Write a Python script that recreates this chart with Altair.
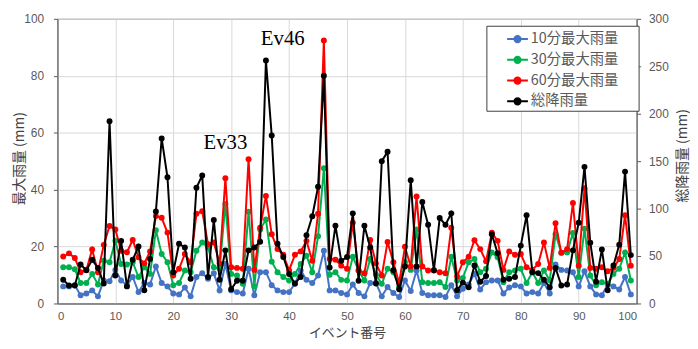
import altair as alt
import pandas as pd

events = list(range(1, 100))

max10 = [6.0, 6.0, 6.4, 2.9, 3.5, 4.6, 2.5, 8.1, 7.8, 11.8,
         8.1, 6.4, 9.3, 4.0, 7.2, 6.7, 13.0, 7.2, 6.0, 3.5,
         3.2, 5.6, 2.5, 9.3, 10.6, 8.7, 10.6, 4.6, 13.9, 4.6,
         4.0, 3.5, 12.2, 2.9, 11.0, 11.0, 6.4, 4.6, 4.0, 4.0,
         6.9, 11.6, 8.3, 7.2, 9.8, 18.5, 4.6, 4.6, 3.7, 3.2,
         6.7, 3.7, 2.5, 7.2, 7.2, 2.5, 5.8, 3.7, 2.3, 8.1,
         4.4, 11.6, 3.7, 2.9, 2.9, 2.9, 2.3, 6.4, 2.5, 5.2,
         6.7, 10.4, 4.9, 7.5, 8.1, 8.1, 3.5, 5.6, 6.4, 6.0,
         3.5, 4.0, 3.5, 7.2, 3.5, 13.7, 11.8, 11.6, 11.0, 6.0,
         11.3, 6.0, 3.2, 2.9, 6.7, 6.0, 4.9, 9.3, 3.2]

max30 = [12.7, 12.7, 12.0, 7.2, 7.2, 10.4, 6.7, 15.0, 14.5, 22.0,
         13.9, 13.7, 14.5, 9.3, 12.7, 10.4, 25.7, 17.4, 14.5, 6.4,
         7.2, 11.6, 11.0, 18.5, 21.4, 19.7, 12.7, 12.2, 35.0, 10.4,
         9.8, 6.9, 32.2, 6.0, 26.0, 29.5, 14.7, 11.0, 9.3, 8.1,
         10.4, 13.9, 16.8, 11.0, 23.6, 47.5, 10.1, 11.0, 8.3, 8.1,
         16.4, 11.6, 8.1, 15.6, 10.1, 6.9, 12.2, 11.0, 6.0, 14.5,
         11.8, 26.0, 7.5, 7.2, 7.2, 7.5, 5.8, 16.4, 8.1, 9.0,
         14.5, 15.6, 11.0, 12.2, 17.9, 16.2, 7.5, 11.0, 11.6, 12.2,
         7.2, 11.0, 7.2, 11.6, 8.1, 24.3, 17.8, 17.9, 24.8, 9.3,
         26.3, 9.8, 6.4, 7.5, 6.9, 10.4, 12.2, 17.9, 8.1]

max60 = [16.5, 17.6, 16.0, 11.0, 11.8, 19.0, 11.0, 20.6, 27.2, 26.0,
         18.5, 18.0, 22.3, 16.2, 14.1, 18.3, 30.7, 30.1, 24.9, 9.8,
         12.2, 17.4, 14.5, 31.5, 32.4, 20.8, 21.4, 14.1, 44.0, 12.7,
         12.5, 12.2, 50.7, 11.8, 26.6, 37.8, 24.3, 19.1, 17.1, 11.6,
         17.1, 18.3, 22.0, 15.0, 31.5, 92.4, 15.6, 15.4, 13.3, 12.2,
         28.4, 11.6, 10.6, 22.3, 14.1, 9.8, 21.6, 14.5, 7.2, 19.9,
         13.0, 37.6, 13.0, 11.6, 11.6, 11.0, 10.6, 26.6, 9.5, 14.5,
         16.4, 22.2, 19.1, 14.8, 24.9, 22.0, 11.8, 18.3, 17.1, 17.4,
         12.7, 11.8, 13.9, 21.4, 12.5, 28.2, 17.8, 19.1, 35.3, 13.3,
         40.5, 12.5, 12.2, 12.7, 11.3, 12.5, 15.6, 31.0, 13.3]

total = [25, 19, 19, 41, 35, 46, 37.5, 21, 192, 29.5,
         66, 18, 46, 60, 14, 47, 97, 174, 133, 33,
         63, 59, 26, 122, 135, 28, 88, 25, 56, 15,
         24, 24, 56, 59, 65, 256, 177, 63, 49, 31,
         21, 28, 72, 92, 123, 240, 38, 82, 45, 49,
         95, 24, 82, 59, 21, 150, 160, 35, 15, 39,
         130, 39, 107, 83, 35, 90, 83, 95, 14, 22,
         17, 40, 23, 29, 73, 53, 25, 26, 28, 61,
         93, 33, 32, 25, 17, 37.5, 19, 20, 56, 85,
         144, 64, 23, 57, 14, 40, 62, 139, 51]

series_names = ["10分最大雨量", "30分最大雨量", "60分最大雨量", "総降雨量"]
series_colors = ["#4472C4", "#00B050", "#FF0000", "#000000"]

ann_text = ["Ev33", "Ev46"]
ann_x = [29.0, 38.9]
ann_y = [56.3, 93.0]

CJK = "Noto Sans CJK JP"
NUM = "Liberation Sans"
GRAY = "#595959"

rows = []
for name, vals in zip(series_names[:3], [max10, max30, max60]):
    for e, v in zip(events, vals):
        rows.append({"event": e, "value": v, "series": name})
df_left = pd.DataFrame(rows)
df_total = pd.DataFrame({"event": events, "total": total, "series": series_names[3]})
df_ann = pd.DataFrame({"event": ann_x, "value": ann_y, "label": ann_text})

legend_path = "M-1,0L1,0M0.3,0A0.3,0.3,0,1,1,-0.3,0A0.3,0.3,0,1,1,0.3,0"

color = alt.Color(
    "series:N",
    scale=alt.Scale(domain=series_names, range=series_colors),
    legend=alt.Legend(
        title=None, orient="none", legendX=434, legendY=7,
        symbolType=legend_path, symbolSize=441, symbolStrokeWidth=2,
        labelFont=CJK, labelFontSize=14.5, labelColor=GRAY,
        padding=2, rowPadding=2, symbolOffset=18, labelOffset=2,
        strokeColor="#404040", fillColor="white",
        labelExpr="datum.label + '\u3000\u2005\u200b'",
    ),
)

x = alt.X(
    "event:Q",
    scale=alt.Scale(domain=[0, 100], nice=False, zero=False),
    axis=alt.Axis(
        values=list(range(0, 101, 10)), grid=True, ticks=False, tickSize=0,
        labelPadding=7, labelFont=NUM, labelFontSize=11.5, labelColor=GRAY,
        title="イベント番号", titleFont=CJK, titleFontSize=13, titleFontWeight="normal",
        titleColor="#404040", titleY=33, titleBaseline="alphabetic",
        domainColor=GRAY, gridColor="#D9D9D9",
    ),
)

y_left = alt.Y(
    "value:Q",
    scale=alt.Scale(domain=[0, 100], nice=False),
    axis=alt.Axis(
        orient="left", values=list(range(0, 101, 10)),
        labelExpr="datum.value % 20 === 0 ? datum.label : ''",
        gridOpacity={"condition": {"test": "datum.value % 20 === 0", "value": 1}, "value": 0},
        gridColor="#D9D9D9",
        tickSize=4, tickColor=GRAY, labelPadding=10,
        labelFont=NUM, labelFontSize=12, labelColor=GRAY,
        title="最大雨量 (mm)", titleFont=CJK, titleFontSize=14, titleFontWeight="normal",
        titleColor="#404040", titleX=-38, titleY=141, titleAngle=-90,
        titleAlign="center", titleBaseline="middle", domainColor=GRAY,
    ),
)

y_right = alt.Y(
    "total:Q",
    scale=alt.Scale(domain=[0, 300], nice=False),
    axis=alt.Axis(
        orient="right", values=list(range(0, 301, 50)), grid=False,
        tickSize=4, tickColor=GRAY, labelPadding=8,
        labelFont=NUM, labelFontSize=12, labelColor=GRAY,
        title="総降雨量 (mm)", titleFont=CJK, titleFontSize=14, titleFontWeight="normal",
        titleColor="#404040", titleX=46, titleY=138, titleAngle=-90,
        titleAlign="center", titleBaseline="middle", domainColor=GRAY,
    ),
)

def line_layer(data, name, y):
    return (
        alt.Chart(data)
        .transform_filter(alt.datum.series == name)
        .mark_line(strokeWidth=2, point=alt.OverlayMarkDef(filled=True, size=36, opacity=1))
        .encode(x=x, y=y, color=color)
    )

layers_left = [line_layer(df_left, n, y_left) for n in series_names[:3]]
ann = alt.Chart(df_ann).mark_text(font="Liberation Serif", fontSize=21, color="black").encode(
    x=alt.X("event:Q"), y=alt.Y("value:Q"), text="label:N"
)
left = alt.layer(*layers_left, ann)
right = line_layer(df_total, series_names[3], y_right)

chart = (
    alt.layer(left, right)
    .resolve_scale(y="independent")
    .properties(
        width=586, height=288,
        autosize=alt.AutoSizeParams(type="none"),
        padding={"left": 50, "top": 9, "right": 54, "bottom": 36},
        background="white",
    )
    .configure_view(stroke=GRAY, strokeWidth=1)
)

chart.save("out.html", embed_options={"renderer": "svg", "actions": False})
